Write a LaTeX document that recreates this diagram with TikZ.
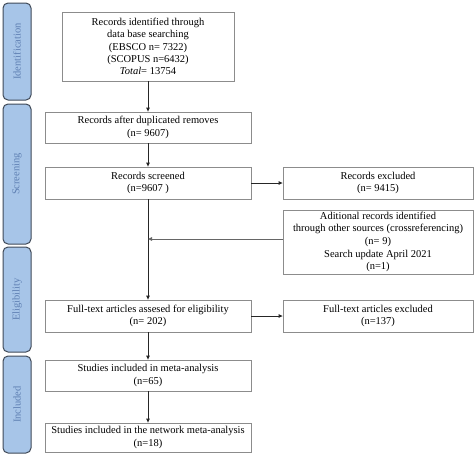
\documentclass[tikz,border=0pt]{standalone}
\usepackage{fontspec}
\setmainfont{Liberation Serif}
\usetikzlibrary{arrows.meta}
\definecolor{barfill}{HTML}{A7C5E8}
\definecolor{bardraw}{HTML}{404A58}
\definecolor{bartext}{HTML}{5F80B3}
\definecolor{boxdraw}{HTML}{8C8C8C}
\begin{document}
\begin{tikzpicture}[x=1pt,y=-1pt,
  flowbox/.style={draw=boxdraw, line width=0.8pt, fill=white, align=center,
    font=\fontsize{10.5}{12.3}\selectfont, inner sep=0pt},
  sidebar/.style={draw=bardraw, line width=1pt, fill=barfill, rounded corners=5pt},
  sidelabel/.style={rotate=90, text=bartext, font=\fontsize{10.5}{13}\selectfont},
  arr/.style={draw=black!85, line width=0.8pt, -{Triangle[length=4pt,width=3.5pt]}},
  harr/.style={draw=black!60, line width=1pt, -{Triangle[length=4pt,width=3.5pt]}}]
\useasboundingbox (0,0) rectangle (474,456);
\fill[white] (0,0) rectangle (474,456);
% side bars
\draw[sidebar] (3,3) rectangle (31,100);
\node[sidelabel] (lid) at (17,51.5) {Identification};
\draw[sidebar] (3,104) rectangle (31,244);
\node[sidelabel] (lsc) at (17,174) {Screening};
\draw[sidebar] (3,247) rectangle (31,352);
\node[sidelabel] (lel) at (17,299.5) {Eligibility};
\draw[sidebar] (3,356) rectangle (31,453);
\node[sidelabel] (lin) at (17,404.5) {Included};
% boxes
\node[flowbox, minimum width=172pt, minimum height=69pt] (b1) at (148,46.5)
  {Records identified through\\data base searching\\(EBSCO n= 7322)\\(SCOPUS n=6432)\\\textit{Total}= 13754};
\node[flowbox, minimum width=206pt, minimum height=31pt] (b2) at (148,127.5)
  {Records after duplicated removes\\(n= 9607)};
\node[flowbox, minimum width=206pt, minimum height=32pt] (b3) at (148,183)
  {Records screened\\(n=9607 )};
\node[flowbox, minimum width=190pt, minimum height=32pt] (b4) at (378,183)
  {Records excluded\\(n= 9415)};
\node[flowbox, minimum width=190pt, minimum height=64pt, font=\fontsize{10.5}{12.7}\selectfont] (b5) at (378,242)
  {Aditional records identified\\through other sources (crossreferencing)\\(n= 9)\\Search update April 2021\\(n=1)};
\node[flowbox, minimum width=206pt, minimum height=32pt] (b6) at (148,316)
  {Full-text articles assesed for eligibility\\(n= 202)};
\node[flowbox, minimum width=190pt, minimum height=32pt] (b7) at (378,316)
  {Full-text articles excluded\\(n=137)};
\node[flowbox, minimum width=206pt, minimum height=31pt] (b8) at (148,375.5)
  {Studies included in meta-analysis\\(n=65)};
\node[flowbox, minimum width=206pt, minimum height=29pt] (b9) at (148,437.5)
  {Studies included in the network meta-analysis\\(n=18)};
% connectors
\coordinate (j) at (148,239);
\draw[arr] (b1) -- (b2);
\draw[arr] (b2) -- (b3);
\draw[arr] (b3) -- (b6);
\draw[arr] (b3) -- (b4);
\draw[harr] ([yshift=3pt]b5.west) -- (j);
\draw[arr] (b6) -- (b7);
\draw[arr] (b6) -- (b8);
\draw[arr] (b8) -- (b9);
\end{tikzpicture}
\end{document}
